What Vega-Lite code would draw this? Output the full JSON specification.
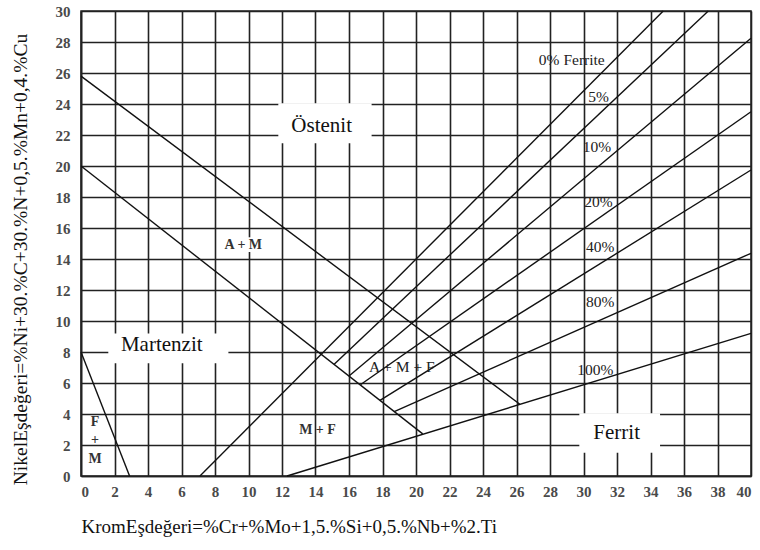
{
  "$schema": "https://vega.github.io/schema/vega-lite/v6.json",
  "width": 670,
  "height": 465,
  "autosize": "none",
  "padding": {"left": 81, "top": 11, "right": 9, "bottom": 74},
  "background": "white",
  "config": {
    "view": {"stroke": "#222", "strokeWidth": 1.5},
    "axis": {
      "grid": true,
      "gridColor": "#222",
      "gridWidth": 1.6,
      "gridOpacity": 1,
      "ticks": false,
      "domainColor": "#222",
      "domainWidth": 1.6,
      "labelFont": "Liberation Serif",
      "labelFontWeight": "bold",
      "labelFontSize": 15,
      "labelColor": "#4a4a4a",
      "titleFont": "Liberation Serif",
      "titleFontWeight": "normal",
      "titleColor": "#111"
    }
  },
  "encoding": {
    "x": {
      "field": "x",
      "type": "quantitative",
      "scale": {"domain": [0, 40], "nice": false, "zero": false},
      "axis": {
        "values": [0, 2, 4, 6, 8, 10, 12, 14, 16, 18, 20, 22, 24, 26, 28, 30, 32, 34, 36, 38, 40],
        "labelPadding": 8,
        "title": "KromEşdeğeri=%Cr+%Mo+1,5.%Si+0,5.%Nb+%2.Ti",
        "titleFontSize": 19,
        "titleAnchor": "start",
        "titlePadding": 18
      }
    },
    "y": {
      "field": "y",
      "type": "quantitative",
      "scale": {"domain": [0, 30], "nice": false, "zero": false},
      "axis": {
        "values": [0, 2, 4, 6, 8, 10, 12, 14, 16, 18, 20, 22, 24, 26, 28, 30],
        "labelPadding": 11,
        "title": "NikelEşdeğeri=%Ni+30.%C+30.%N+0,5.%Mn+0,4.%Cu",
        "titleFontSize": 19.5,
        "titlePadding": 25,
        "titleY": 248
      }
    }
  },
  "layer": [
    {
      "data": {
        "values": [
          {"x": 11.78, "x2": 17.35, "y": 21.46, "y2": 24.05},
          {"x": 1.63, "x2": 8.8, "y": 7.27, "y2": 9.2},
          {"x": 29.75, "x2": 34.57, "y": 1.5, "y2": 4.05},
          {"x": 9.3, "x2": 10.6, "y": 14.45, "y2": 15.4}
        ]
      },
      "mark": {"type": "rect", "fill": "white", "stroke": null},
      "encoding": {"x2": {"field": "x2"}, "y2": {"field": "y2"}}
    },
    {
      "data": {
        "values": [
          {"id": "AM_upper", "o": 0, "x": 0, "y": 25.8},
          {"id": "AM_upper", "o": 1, "x": 26.2, "y": 4.63},
          {"id": "AM_lower", "o": 0, "x": 0, "y": 20},
          {"id": "AM_lower", "o": 1, "x": 20.4, "y": 2.72},
          {"id": "FM", "o": 0, "x": 0, "y": 8},
          {"id": "FM", "o": 1, "x": 2.9, "y": 0},
          {"id": "f0", "o": 0, "x": 7.1, "y": 0},
          {"id": "f0", "o": 1, "x": 34.76, "y": 30},
          {"id": "f5", "o": 0, "x": 15.1, "y": 7.2},
          {"id": "f5", "o": 1, "x": 37.45, "y": 30},
          {"id": "f10", "o": 0, "x": 16.0, "y": 6.45},
          {"id": "f10", "o": 1, "x": 40, "y": 28.24},
          {"id": "f20", "o": 0, "x": 16.7, "y": 5.9},
          {"id": "f20", "o": 1, "x": 40, "y": 23.5},
          {"id": "f40", "o": 0, "x": 17.85, "y": 4.88},
          {"id": "f40", "o": 1, "x": 40, "y": 19.74},
          {"id": "f80", "o": 0, "x": 18.7, "y": 4.16},
          {"id": "f80", "o": 1, "x": 40, "y": 14.37},
          {"id": "f100", "o": 0, "x": 12.3, "y": 0},
          {"id": "f100", "o": 1, "x": 40, "y": 9.2}
        ]
      },
      "mark": {"type": "line", "color": "#111", "strokeWidth": 1.4},
      "encoding": {
        "detail": {"field": "id", "type": "nominal"},
        "order": {"field": "o", "type": "quantitative"}
      }
    },
    {
      "data": {
        "values": [
          {"label": "Östenit", "x": 14.37, "y": 22.58},
          {"label": "Martenzit", "x": 4.82, "y": 8.45},
          {"label": "Ferrit", "x": 31.98, "y": 2.77}
        ]
      },
      "mark": {"type": "text", "font": "Liberation Serif", "fontSize": 21, "color": "#111", "align": "center", "baseline": "middle"},
      "encoding": {"text": {"field": "label"}}
    },
    {
      "data": {
        "values": [
          {"label": "A + M", "x": 9.69, "y": 14.9},
          {"label": "M + F", "x": 14.12, "y": 3.0},
          {"label": "F", "x": 0.84, "y": 3.5},
          {"label": "+", "x": 0.84, "y": 2.32},
          {"label": "M", "x": 0.84, "y": 1.07}
        ]
      },
      "mark": {"type": "text", "font": "Liberation Serif", "fontSize": 14, "fontWeight": "bold", "color": "#333", "align": "center", "baseline": "middle"},
      "encoding": {"text": {"field": "label"}}
    },
    {
      "data": {
        "values": [
          {"label": "0% Ferrite", "x": 29.3, "y": 26.84},
          {"label": "5%", "x": 30.9, "y": 24.47},
          {"label": "10%", "x": 30.8, "y": 21.25},
          {"label": "20%", "x": 30.9, "y": 17.7},
          {"label": "40%", "x": 31.0, "y": 14.8},
          {"label": "80%", "x": 31.0, "y": 11.25},
          {"label": "100%", "x": 30.7, "y": 6.84},
          {"label": "A + M + F", "x": 19.15, "y": 7.05}
        ]
      },
      "mark": {"type": "text", "font": "Liberation Serif", "fontSize": 15.5, "color": "#222", "align": "center", "baseline": "middle"},
      "encoding": {"text": {"field": "label"}}
    }
  ]
}
